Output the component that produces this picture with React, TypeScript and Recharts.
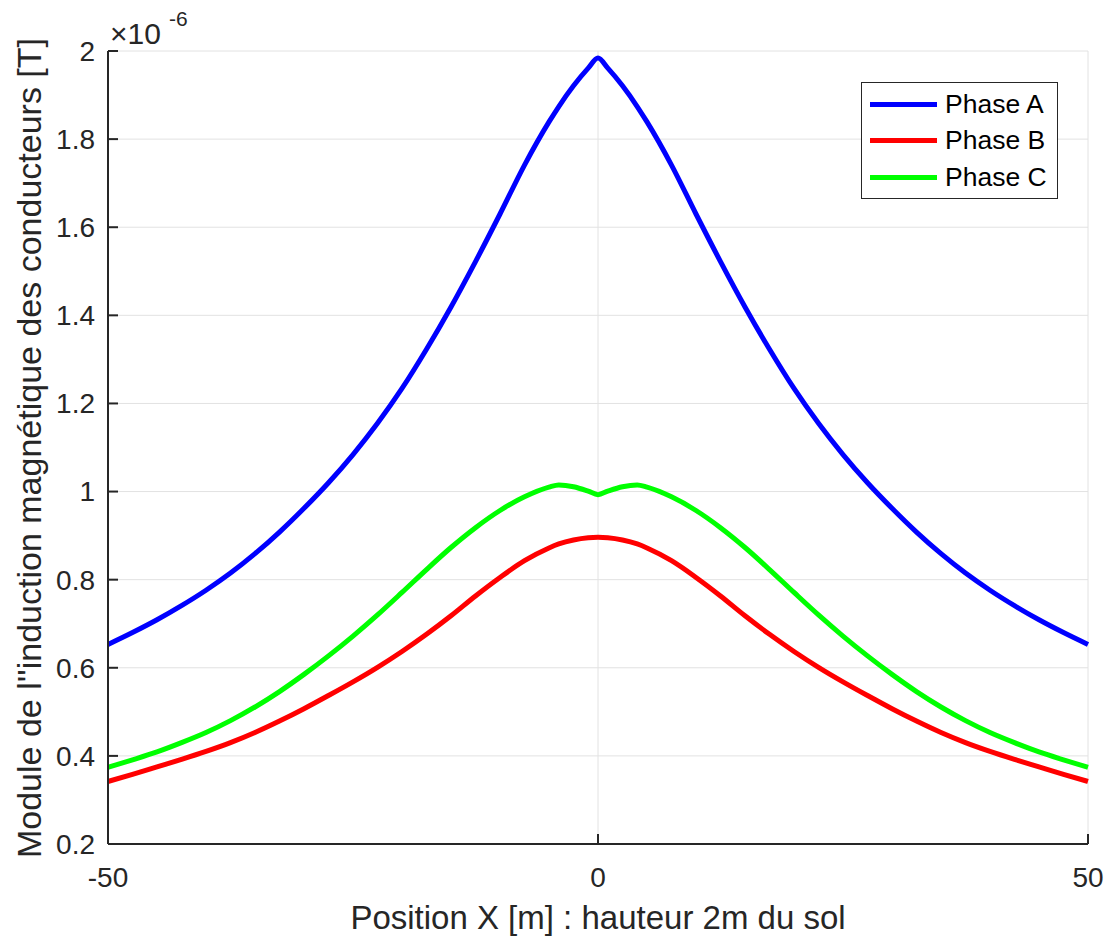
import { LineChart, Line, XAxis, YAxis, CartesianGrid, Legend } from 'recharts';

// position along the ground, metres
const positions = [
  -50, -47.5, -45, -42.5, -40, -37.5, -35, -32.5, -30, -27.5, -25, -22.5, -20, -17.5, -15, -12.5,
  -10, -7.5, -5, -4, -2.5, -1, 0, 1, 2.5, 4, 5, 7.5, 10, 12.5, 15, 17.5, 20, 22.5, 25, 27.5, 30,
  32.5, 35, 37.5, 40, 42.5, 45, 47.5, 50,
];

// |B| in units of 1e-6 T
const phaseA = [
  0.653, 0.68, 0.709, 0.741, 0.776, 0.815, 0.859, 0.908, 0.962, 1.02, 1.084, 1.155, 1.234, 1.323,
  1.419, 1.522, 1.63, 1.741, 1.839, 1.874, 1.921, 1.961, 1.984, 1.961, 1.921, 1.874, 1.839, 1.741,
  1.63, 1.522, 1.419, 1.323, 1.234, 1.155, 1.084, 1.02, 0.962, 0.908, 0.859, 0.815, 0.776, 0.741,
  0.709, 0.68, 0.653,
];
const phaseB = [
  0.342, 0.358, 0.375, 0.392, 0.41, 0.43, 0.453, 0.479, 0.507, 0.537, 0.568, 0.601, 0.637, 0.676,
  0.718, 0.763, 0.805, 0.843, 0.872, 0.881, 0.89, 0.895, 0.896, 0.895, 0.89, 0.881, 0.872, 0.843,
  0.805, 0.763, 0.718, 0.676, 0.637, 0.601, 0.568, 0.537, 0.507, 0.479, 0.453, 0.43, 0.41, 0.392,
  0.375, 0.358, 0.342,
];
const phaseC = [
  0.374, 0.391, 0.409, 0.43, 0.453, 0.48, 0.511, 0.546, 0.585, 0.627, 0.672, 0.72, 0.771, 0.823,
  0.873, 0.918, 0.957, 0.988, 1.01, 1.015, 1.011, 1.001, 0.993, 1.001, 1.011, 1.015, 1.01, 0.988,
  0.957, 0.918, 0.873, 0.823, 0.771, 0.72, 0.672, 0.627, 0.585, 0.546, 0.511, 0.48, 0.453, 0.43,
  0.409, 0.391, 0.374,
];

const xTicks = [-50, 0, 50];
const yTicks = [0.2, 0.4, 0.6, 0.8, 1, 1.2, 1.4, 1.6, 1.8, 2];

const seriesNames = ['Phase A', 'Phase B', 'Phase C'];
const seriesColors = ['#0000ff', '#ff0000', '#00ff00'];

const FONT = '"Liberation Sans", Arial, Helvetica, sans-serif';
const INK = '#262626';

const data = positions.map((x, i) => ({
  x,
  a: phaseA[i],
  b: phaseB[i],
  c: phaseC[i],
}));

function fmtY(v: number) {
  return String(Number(v.toFixed(1)));
}

function renderLegend() {
  return (
    <div
      style={{
        width: 197,
        height: 117,
        border: `1.5px solid ${INK}`,
        background: '#fff',
        boxSizing: 'border-box',
        fontFamily: FONT,
        fontSize: 26.5,
        color: '#000',
        paddingTop: 3,
      }}
    >
      {seriesNames.map((name, i) => (
        <div key={name} style={{ display: 'flex', alignItems: 'center', height: 36.5 }}>
          <div style={{ width: 67, height: 5, background: seriesColors[i], marginLeft: 8 }} />
          <span style={{ marginLeft: 8 }}>{name}</span>
        </div>
      ))}
    </div>
  );
}

export default function App() {
  return (
    <div
      style={{
        position: 'absolute',
        left: 0,
        top: 0,
        width: 1114,
        height: 944,
        background: '#fff',
        fontFamily: FONT,
      }}
    >
      <LineChart width={1114} height={944} data={data} margin={{ top: 51, right: 26, bottom: 60, left: 28 }}>
        <CartesianGrid stroke="#e2e2e2" strokeWidth={1} xAxisId="bottom" yAxisId="left" />
        <XAxis
          xAxisId="bottom"
          dataKey="x"
          type="number"
          domain={[-50, 50]}
          ticks={xTicks}
          height={40}
          stroke={INK}
          strokeWidth={2}
          tickSize={-10}
          tickMargin={33}
          tick={{ fontSize: 28, fill: INK, fontFamily: FONT }}
        />
        <XAxis
          xAxisId="top"
          orientation="top"
          dataKey="x"
          type="number"
          domain={[-50, 50]}
          ticks={xTicks}
          height={0}
          stroke={INK}
          strokeWidth={2}
          tickSize={-10}
          tick={() => <g />}
        />
        <YAxis
          yAxisId="left"
          type="number"
          domain={[0.2, 2]}
          ticks={yTicks}
          width={80}
          stroke={INK}
          strokeWidth={2}
          tickSize={-10}
          tickMargin={23}
          tickFormatter={fmtY}
          tick={{ fontSize: 28, fill: INK, fontFamily: FONT }}
        />
        <YAxis
          yAxisId="right"
          orientation="right"
          type="number"
          domain={[0.2, 2]}
          ticks={yTicks}
          width={0}
          stroke={INK}
          strokeWidth={2}
          tickSize={-10}
          tick={() => <g />}
        />
        <Legend
          content={renderLegend}
          layout="horizontal"
          verticalAlign="middle"
          align="center"
          wrapperStyle={{ left: 861, top: 82, width: 197, height: 117 }}
        />
        {['a', 'b', 'c'].map((key, i) => (
          <Line
            key={key}
            xAxisId="bottom"
            yAxisId="left"
            type="monotone"
            dataKey={key}
            name={seriesNames[i]}
            stroke={seriesColors[i]}
            strokeWidth={5}
            dot={false}
            isAnimationActive={false}
          />
        ))}
      </LineChart>

      {/* exponent above the y axis */}
      <div style={{ position: 'absolute', left: 110, top: 19, fontSize: 30, color: INK, lineHeight: 1 }}>
        ×10
        <span style={{ fontSize: 21, position: 'absolute', left: 59, top: -11 }}>-6</span>
      </div>

      <div
        style={{
          position: 'absolute',
          left: 29,
          top: 448,
          transform: 'translate(-50%, -50%) rotate(-90deg)',
          whiteSpace: 'nowrap',
          fontSize: 34,
          color: INK,
        }}
      >
        Module de l''induction magnétique des conducteurs [T]
      </div>
      <div
        style={{
          position: 'absolute',
          left: 598,
          top: 918,
          transform: 'translate(-50%, -50%)',
          whiteSpace: 'nowrap',
          fontSize: 33,
          color: INK,
        }}
      >
        Position X [m] : hauteur 2m du sol
      </div>
    </div>
  );
}
